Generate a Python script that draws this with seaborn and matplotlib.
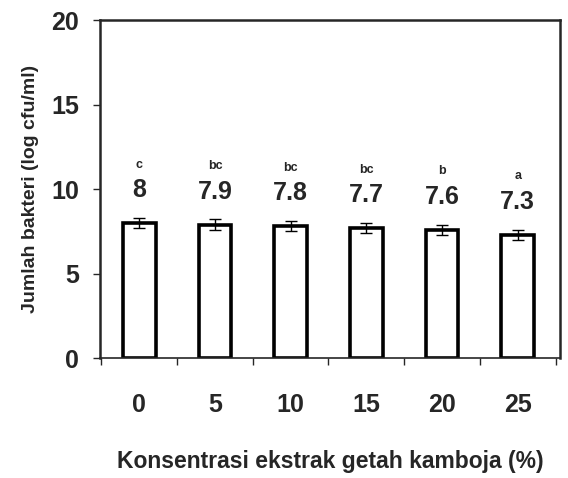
import matplotlib
matplotlib.use("Agg")
import matplotlib.pyplot as plt
import seaborn as sns
import pandas as pd

# data
konsentrasi = ["0", "5", "10", "15", "20", "25"]
jumlah_bakteri = [8.0, 7.9, 7.8, 7.7, 7.6, 7.3]
galat = [0.3, 0.3, 0.3, 0.3, 0.3, 0.3]
notasi = ["c", "bc", "bc", "bc", "b", "a"]
label_nilai = ["8", "7.9", "7.8", "7.7", "7.6", "7.3"]

data = pd.DataFrame({"konsentrasi": konsentrasi, "jumlah": jumlah_bakteri})

sns.set_style("ticks")
plt.rcParams["font.family"] = ["Liberation Sans", "DejaVu Sans"]
plt.rcParams["font.weight"] = "bold"

fig = plt.figure(figsize=(5.68, 4.78), dpi=100)
ax = fig.add_axes([0.176, 0.251, 0.81, 0.707])

sns.barplot(data=data, x="konsentrasi", y="jumlah", color="white",
            edgecolor="black", linewidth=2.6, width=0.43, ax=ax)
ax.errorbar(range(len(konsentrasi)), jumlah_bakteri, yerr=galat, fmt="none",
            ecolor="black", elinewidth=1, capsize=4, capthick=1)

# label nilai dan notasi
for i in range(len(konsentrasi)):
    ax.text(i, jumlah_bakteri[i] + 1.95, label_nilai[i], ha="center", va="center",
            fontsize=18, fontweight="bold")
    ax.text(i, jumlah_bakteri[i] + 3.45, notasi[i], ha="center", va="center",
            fontsize=9, fontweight="bold")

ax.set_ylim(0, 20)
ax.set_xlim(-0.52, 5.56)
ax.set_yticks([0, 5, 10, 15, 20])
ax.set_yticklabels(["0", "5", "10", "15", "20"], fontsize=18, fontweight="bold")
ax.set_xticks(range(len(konsentrasi)))
ax.set_xticklabels(konsentrasi, fontsize=18, fontweight="bold")
ax.tick_params(axis="x", which="major", length=0, pad=25)
ax.set_xticks([i - 0.5 for i in range(len(konsentrasi) + 1)], minor=True)
ax.tick_params(axis="x", which="minor", length=5, width=1, direction="out")
ax.tick_params(axis="y", length=5, width=1, direction="out", pad=10)

for s in ["top", "right", "left"]:
    ax.spines[s].set_linewidth(1.8)
    ax.spines[s].set_visible(True)
ax.spines["bottom"].set_linewidth(1.2)

ax.set_xlabel("Konsentrasi ekstrak getah kamboja (%)", fontsize=16.5,
              fontweight="bold", labelpad=24)
ax.set_ylabel("Jumlah bakteri (log cfu/ml)", fontsize=14, fontweight="bold",
              labelpad=9)

plt.savefig("out.png", dpi=100)
